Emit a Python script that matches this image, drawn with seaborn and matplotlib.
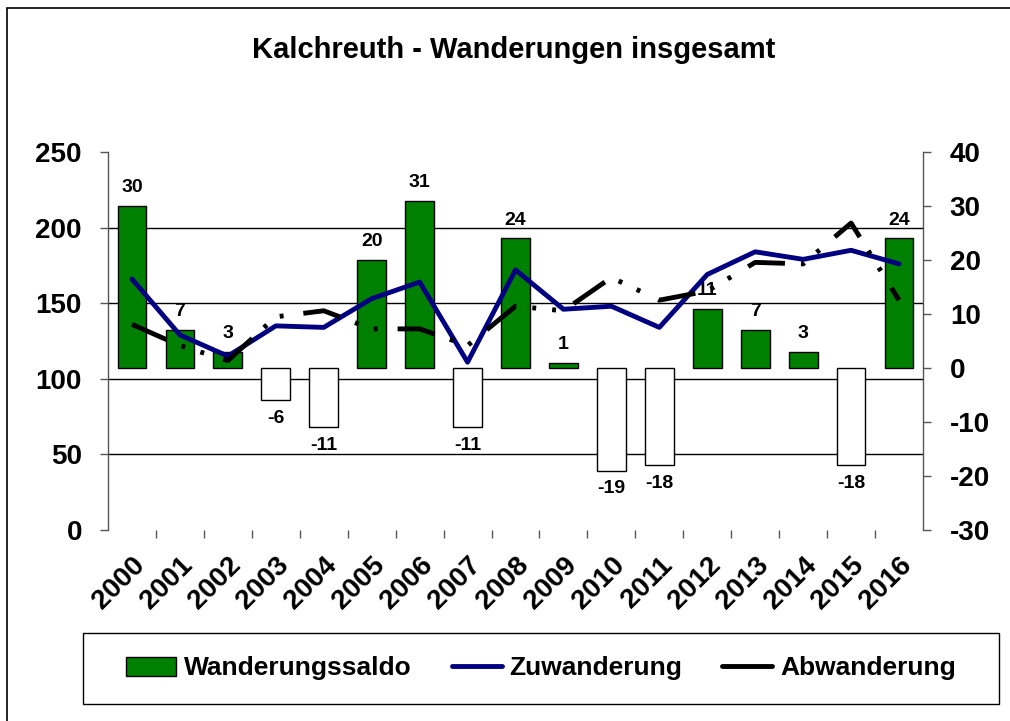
import numpy as np
import pandas as pd
import matplotlib.pyplot as plt
import matplotlib.transforms as mtransforms
from matplotlib.patches import Rectangle, Patch
from matplotlib.lines import Line2D
import seaborn as sns

# --- data ---
years = [str(y) for y in range(2000, 2017)]
saldo = [30, 7, 3, -6, -11, 20, 31, -11, 24, 1, -19, -18, 11, 7, 3, -18, 24]
zuwanderung = [166, 129, 115, 135, 134, 153, 164, 111, 172, 146, 148, 134, 169, 184, 179, 185, 176]
abwanderung = [136, 122, 112, 141, 145, 133, 133, 122, 148, 145, 167, 152, 158, 177, 176, 203, 152]

left_ticks = [0, 50, 100, 150, 200, 250]
right_ticks = [-30, -20, -10, 0, 10, 20, 30, 40]
grid_vals = [50, 100, 150, 200]

sns.set_theme(style="white")
plt.rcParams['font.family'] = ['Liberation Sans', 'DejaVu Sans']
plt.rcParams['font.weight'] = 'bold'
plt.rcParams['axes.unicode_minus'] = False
for key in ['text.color', 'axes.labelcolor', 'xtick.color', 'ytick.color']:
    plt.rcParams[key] = 'black'

df = pd.DataFrame({'Jahr': years, 'Saldo': saldo,
                   'Zu': zuwanderung, 'Ab': abwanderung})
df['Vorzeichen'] = np.where(df['Saldo'] >= 0, 'pos', 'neg')
df['i'] = np.arange(len(df))

fig = plt.figure(figsize=(10.1, 7.21), dpi=100)
ax = fig.add_axes([108 / 1010, 1 - 530 / 721, 815 / 1010, 378 / 721])
axl = ax.twinx()

# bars (right axis)
sns.barplot(data=df, x='Jahr', y='Saldo', hue='Vorzeichen',
            palette={'pos': '#008000', 'neg': 'white'}, dodge=False,
            saturation=1, width=0.6, edgecolor='black', linewidth=1,
            legend=False, ax=ax, zorder=2)
for cont in ax.containers:
    ax.bar_label(cont, fmt='%d', padding=7, fontsize=14, fontweight='bold',
                 color='black')

# grid lines belong to the left scale, but sit behind the bars
blend = mtransforms.blended_transform_factory(ax.transAxes, axl.transData)
for v in grid_vals:
    ax.plot([0, 1], [v, v], transform=blend, color='black', lw=1, zorder=0.5)

# lines (left axis)
sns.lineplot(data=df, x='i', y='Zu', color='#000080', lw=3.5, ax=axl)
sns.lineplot(data=df, x='i', y='Ab', color='black', lw=3.5, ax=axl,
             linestyle=(0, (7.8, 3.3, 0.8, 3.3, 0.8, 4.1)))

ax.set_xlim(-0.5, 16.5)
ax.set_ylim(-30, 40)
axl.set_ylim(0, 250)
ax.set_yticks(right_ticks)
axl.set_yticks(left_ticks)
ax.set_xlabel('')
ax.set_ylabel('')
axl.set_xlabel('')
axl.set_ylabel('')

for a in (ax, axl):
    for s in a.spines.values():
        s.set_visible(False)
axl.spines['left'].set_visible(True)
ax.spines['right'].set_visible(True)
for s in (axl.spines['left'], ax.spines['right']):
    s.set_color('#555555')
    s.set_linewidth(1)

ax.tick_params(axis='y', left=False, right=True, labelleft=False, labelright=True,
               length=5.8, width=1, color='#555555', pad=13.5, labelsize=20,
               labelcolor='black')
axl.tick_params(axis='y', left=True, right=False, labelleft=True, labelright=False,
                length=5.8, width=1, color='#555555', pad=13, labelsize=20,
                labelcolor='black')
for lab in ax.get_yticklabels() + axl.get_yticklabels():
    lab.set_fontweight('bold')

ax.set_xticks(range(len(years)))
ax.set_xticklabels(years, rotation=45, ha='right', rotation_mode='anchor',
                   fontsize=20, fontweight='bold', color='black')
ax.tick_params(axis='x', which='major', bottom=True, length=0, pad=16)
ax.set_xticks(np.arange(0.5, len(years) - 1, 1), minor=True)
ax.tick_params(axis='x', which='minor', bottom=True, length=5.8, width=1,
               color='#555555', direction='out')

fig.text(514 / 1010, 1 - 50 / 721, 'Kalchreuth - Wanderungen insgesamt',
         ha='center', va='center', fontsize=21, fontweight='bold', color='black')

# legend
handles = [Patch(facecolor='#008000', edgecolor='black', linewidth=1),
           Line2D([], [], color='#000080', lw=3.5),
           Line2D([], [], color='black', lw=3.5)]
labels = ['Wanderungssaldo', 'Zuwanderung', 'Abwanderung']
leg = fig.legend(handles, labels, loc='center',
                 bbox_to_anchor=((83 + 999) / 2 / 1010, 1 - (633 + 704) / 2 / 721),
                 ncol=3, frameon=False, prop={'size': 19, 'weight': 'bold'},
                 handlelength=1.9, handletextpad=0.3, columnspacing=1.5)
for t in leg.get_texts():
    t.set_color('black')
fig.patches.append(Rectangle((83 / 1010, 1 - 704 / 721), (999 - 83) / 1010, 71 / 721,
                             transform=fig.transFigure, fill=False,
                             edgecolor='black', lw=1))
fig.patches.append(Rectangle((7 / 1010, -0.05), 1.1, (721 - 8) / 721 + 0.05,
                             transform=fig.transFigure, fill=False,
                             edgecolor='black', lw=1.2, clip_on=False))

fig.savefig('out.png', dpi=100)
